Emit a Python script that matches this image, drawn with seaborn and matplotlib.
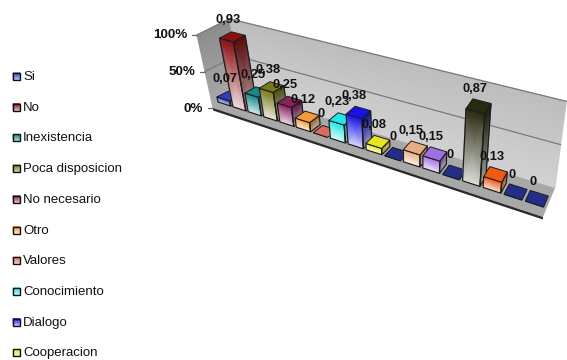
import numpy as np
import matplotlib
matplotlib.use("Agg")
import matplotlib.pyplot as plt
from matplotlib.colors import LinearSegmentedColormap, to_rgb
from matplotlib.patches import Polygon, Rectangle
from matplotlib.transforms import Transform
import seaborn as sns

legend_names = ["Si", "No", "Inexistencia", "Poca disposicion", "No necesario",
                "Otro", "Valores", "Conocimiento", "Dialogo", "Cooperacion"]
values = [0.07, 0.93, 0.25, 0.38, 0.25, 0.12, 0.0, 0.23, 0.38, 0.08,
          0.0, 0.15, 0.15, 0.0, 0.87, 0.13, 0.0, 0.0]
value_labels = ["0,07", "0,93", "0,25", "0,38", "0,25", "0,12", "0", "0,23", "0,38",
                "0,08", "0", "0,15", "0,15", "0", "0,87", "0,13", "0", "0"]
series_colors = ["#2a40c0", "#8a1014", "#14888a", "#77771c", "#8a2060", "#f59a35",
                 "#d96a60", "#20e8e8", "#1414e8", "#e6e620", "#222e88", "#e6ae80",
                 "#a070e0", "#222e88", "#2a2a10", "#f05a12", "#222e88", "#222e88"]
axis_ticks = [0.0, 0.5, 1.0]
axis_tick_labels = ["0%", "50%", "100%"]

sns.set_theme(style="white")
plt.rcParams["font.family"] = ["Liberation Sans", "DejaVu Sans"]

BAR_WIDTH = 0.85
DEPTH_FRONT, DEPTH_BACK = 0.31, 0.69


def floor_point(u, d):
    """Map along-axis u and depth d (both 0..1) to canvas pixels."""
    x = 213 + 330 * u + d * (30 - 18 * u)
    y = 108 + 109 * u + d * (-15 - 14 * u)
    return x, y


def project_uv(u, z, d):
    x, y = floor_point(u, d)
    x, y = np.asarray(x, float), np.asarray(y, float)
    return x + z * (-16 + (x - 213) * 0.08), y - z * (74 + (x - 238) * 0.04)


def to_u(pos):
    # Category spacing widens towards the viewer
    pos = np.asarray(pos, float)
    return (2 + 14.65 * pos + 0.2 * pos ** 2) / 321


def project(pos, z, d):
    return project_uv(to_u(pos), z, d)


class FrontFace(Transform):
    """Sends (category position, value) onto the front plane of the bars."""
    input_dims = output_dims = 2

    def transform_non_affine(self, values):
        pts = np.asarray(values, float)
        x, y = project(pts[:, 0], pts[:, 1], DEPTH_FRONT)
        return np.column_stack([x, y])


def mix(color, other, amount):
    a, b = np.array(to_rgb(color)), np.array(to_rgb(other))
    return tuple(a + (b - a) * amount)


def shaded_quad(ax, corners_bottom, corners_top, low, high, zorder):
    """Two-colour vertical gradient across a four-sided face."""
    X = [[corners_bottom[0][0], corners_bottom[1][0]], [corners_top[0][0], corners_top[1][0]]]
    Y = [[corners_bottom[0][1], corners_bottom[1][1]], [corners_top[0][1], corners_top[1][1]]]
    cmap = LinearSegmentedColormap.from_list("face", [low, high])
    ax.pcolormesh(X, Y, [[0, 0], [1, 1]], shading="gouraud", cmap=cmap,
                  vmin=0, vmax=1, zorder=zorder)


fig = plt.figure(figsize=(5.67, 3.6), dpi=100)
ax = fig.add_axes([0, 0, 1, 1])

positions = np.arange(len(values))
sns.barplot(x=positions, y=values, hue=positions, palette=series_colors, width=BAR_WIDTH,
            native_scale=True, dodge=False, legend=False, ax=ax)

front_transform = FrontFace() + ax.transData
bars = sorted(ax.patches, key=lambda p: p.get_x())

# Walls and floor of the chart box
u_l, u_r = 0.0, 1.0
left_front_bot = project_uv(u_l, 0, 0)
left_front_top = project_uv(u_l, 1, 0)
left_back_bot = project_uv(u_l, 0, 1)
left_back_top = project_uv(u_l, 1, 1)
right_back_bot = project_uv(u_r, 0, 1)
right_back_top = project_uv(u_r, 1, 1)
right_front_bot = project_uv(u_r, 0, 0)

shaded_quad(ax, [left_front_bot, left_back_bot], [left_front_top, left_back_top],
            "#ababab", "#8c8c8c", 1)
shaded_quad(ax, [left_back_bot, right_back_bot], [left_back_top, right_back_top],
            "#d2d2d2", "#bdbdbd", 1)
ax.add_patch(Polygon([left_front_bot, right_front_bot, right_back_bot, left_back_bot],
                     closed=True, facecolor="#a8a8a8", edgecolor="none", zorder=2))
ax.add_patch(Polygon([left_front_bot, right_front_bot,
                      (right_front_bot[0], right_front_bot[1] + 2.5),
                      (left_front_bot[0], left_front_bot[1] + 2.5)],
                     closed=True, facecolor="#2a2a2a", edgecolor="none", zorder=2))

for tick, tick_label in zip(axis_ticks, axis_tick_labels):
    corner = project_uv(u_l, tick, 1)
    end = project_uv(u_r, tick, 1)
    front = project_uv(u_l, tick, 0)
    if tick > 0:
        ax.plot([corner[0], end[0]], [corner[1], end[1]], color="#7a7a7a", lw=0.9, zorder=3)
        ax.plot([front[0], corner[0]], [front[1], corner[1]], color="#7a7a7a", lw=0.9, zorder=3)
    ax.plot([front[0] - 5, front[0]], [front[1], front[1]], color="#666666", lw=0.9, zorder=3)
    ax.text(front[0] - 10, front[1] + 0.5, tick_label, ha="right", va="center",
            fontsize=9.6, fontweight="bold", color="#111111", zorder=100)

# Bars: seaborn rectangles give the front outlines, shaded faces sit around them
for i, bar in enumerate(bars):
    color = series_colors[i]
    x0, x1 = bar.get_x(), bar.get_x() + bar.get_width()
    h = bar.get_height()
    z = 10 + i

    bar.set_transform(front_transform)
    bar.set_facecolor("none")
    bar.set_edgecolor("#1c1c1c")
    bar.set_linewidth(0.9)
    bar.set_zorder(z + 0.5)

    fb = [project(x0, 0, DEPTH_FRONT), project(x1, 0, DEPTH_FRONT)]
    ft = [project(x0, h, DEPTH_FRONT), project(x1, h, DEPTH_FRONT)]
    sb = [project(x1, 0, DEPTH_FRONT), project(x1, 0, DEPTH_BACK)]
    st = [project(x1, h, DEPTH_FRONT), project(x1, h, DEPTH_BACK)]
    top = [project(x0, h, DEPTH_FRONT), project(x1, h, DEPTH_FRONT),
           project(x1, h, DEPTH_BACK), project(x0, h, DEPTH_BACK)]

    if h > 0:
        shaded_quad(ax, fb, ft, mix(color, "white", 0.85), color, z)
        shaded_quad(ax, sb, st, mix(color, "#b8b8b8", 0.8), mix(color, "black", 0.35), z)
        ax.add_patch(Polygon([sb[0], sb[1], st[1], st[0]], closed=True, facecolor="none",
                             edgecolor="#1c1c1c", lw=0.9, zorder=z + 0.5))
    ax.add_patch(Polygon(top, closed=True, facecolor=color, edgecolor="#1c1c1c",
                         lw=0.7, zorder=z + 0.5))

    cx, cy = project((x0 + x1) / 2, h, 0.5)
    ax.annotate(value_labels[i], (float(cx), float(cy)), xytext=(-2.8, 12.2),
                textcoords="offset points", ha="center", va="center", fontsize=9.3,
                fontweight="bold", color="#111111", zorder=100)

# Legend column; the list runs down to the bottom of the canvas
LEGEND_TOP, LEGEND_STEP = 76.5, 30.7
for i, name in enumerate(legend_names):
    y = LEGEND_TOP + i * LEGEND_STEP
    color = series_colors[i]
    shaded_quad(ax, [(13, y + 3.5), (20, y + 3.5)], [(13, y - 3.5), (20, y - 3.5)],
                mix(color, "white", 0.75), color, 5)
    ax.add_patch(Rectangle((13, y - 3.5), 7, 7, facecolor="none", edgecolor="#111111",
                           lw=1.0, zorder=6))
    ax.text(23, y + 0.5, name, ha="left", va="center", fontsize=9.5, color="#111111", zorder=6)

ax.set_xlim(0, 567)
ax.set_ylim(360, 0)
ax.axis("off")

fig.savefig("out.png", dpi=100)
